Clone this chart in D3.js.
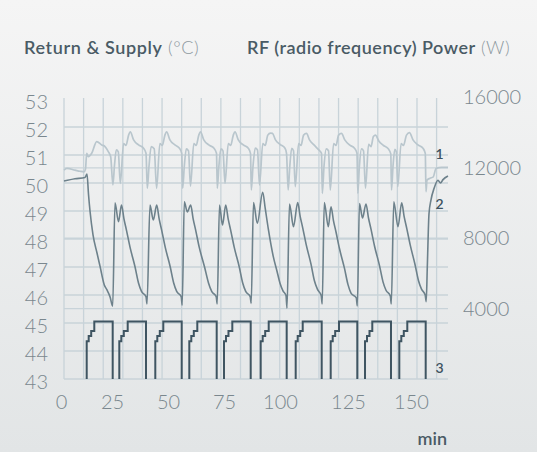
<!DOCTYPE html>
<html><head><meta charset="utf-8">
<script src="https://cdn.jsdelivr.net/npm/d3@7"></script>
<style>
html,body{margin:0;padding:0;background:#eceeee;}
svg{display:block;font-family:Lato,"Noto Sans",sans-serif;}
</style>
</head><body>
<svg id="chart" width="537" height="452"></svg>
<script>
// ---------------- DATA ----------------
const xTicks = [0, 25, 50, 75, 100, 125, 150];
const leftTicks = [43, 44, 45, 46, 47, 48, 49, 50, 51, 52, 53];
const rightTicks = [4000, 8000, 12000, 16000];
const seriesLabels = ["1", "2", "3"];

// series 1: supply temperature (°C), [minute, value]
const supply = [
[1.47,50.46],[2.94,50.52],[6.86,50.46],[9.31,50.42],[11.27,50.4],[12.01,50.5],[12.6,51.06],[13.38,50.94],[15.05,51.06],[17.5,51.48],[19.95,51.36],[21.57,51.3],[23.19,51.12],[24.36,50.94],
[25.4,49.93],[26.12,50.64],[26.92,51.18],[27.81,51.11],[28.71,49.99],
[30.18,51.41],[31.25,51.34],[32.41,51.71],[33.17,51.83],[34.64,51.54],[36.87,51.36],[39.11,51.24],[40.18,51.06],
[40.76,49.81],[41.52,50.6],[42.5,51.3],[43.84,51.22],[44.91,49.81],
[46.38,51.41],[47.46,51.34],[48.62,51.71],[49.38,51.83],[50.85,51.54],[53.08,51.36],[55.13,51.24],[56.12,51.06],
[56.56,49.81],[57.28,50.6],[58.17,51.22],[59.15,51.15],[60.04,49.89],
[61.52,51.41],[62.59,51.34],[63.75,51.71],[64.51,51.83],[65.98,51.54],[68.21,51.36],[70.54,51.24],[71.65,51.06],
[72.01,49.81],[72.72,50.6],[73.62,51.22],[74.55,51.15],[75.45,49.99],
[76.92,51.41],[77.99,51.34],[79.15,51.71],[79.91,51.83],[81.38,51.54],[83.62,51.36],[85.85,51.24],[86.83,51.06],
[87.19,49.75],[87.95,50.6],[88.97,51.25],[89.95,51.18],[90.85,49.93],
[92.32,51.41],[93.39,51.34],[94.55,51.71],[95.76,51.78],[96.65,51.77],[97.99,51.54],[100,51.38],[101.84,51.24],[102.39,51.06],
[103.01,49.75],[103.6,50.6],[104.3,51.24],[104.96,51.15],[105.63,49.87],
[106.84,51.41],[107.72,51.34],[108.68,51.71],[109.74,51.77],[110.85,51.54],[112.5,51.36],[114.08,51.2],[115.26,51.06],
[115.55,49.63],[116.18,50.6],[116.99,51.22],[117.83,51.15],[118.49,49.75],
[119.71,51.41],[120.59,51.34],[121.54,51.71],[122.61,51.77],[123.82,51.54],[125.6,51.36],[127.58,51.24],[128.57,51.06],
[128.89,49.63],[129.52,50.6],[130.36,51.22],[131.15,51.15],[131.94,49.82],
[133.17,51.38],[134.13,51.3],[135.08,51.66],[135.91,51.71],[137.22,51.5],[139.09,51.34],[140.99,51.22],[141.98,51.04],
[142.26,49.75],[142.86,50.6],[143.57,51.2],[144.17,51.12],[144.76,49.87],
[146.07,51.41],[147.02,51.34],[148.21,51.71],[149.4,51.8],[150.79,51.54],[152.78,51.36],[154.76,51.24],[155.67,51.06],
[155.95,49.69],[156.35,50.1],[157.54,50.17],[158.85,50.22],[159.92,50.52],[162.18,50.56],[164.68,50.56]
];

// series 2: return temperature (°C), [minute, value]
const returnTemp = [
[1.47,50.07],[6.86,50.15],[11.76,50.2],[12.75,50.32],[13.48,49.6],[14.22,49.0],[15.69,48.15],[17.65,47.5],[19.12,47.03],[21.23,46.36],[22.4,46.2],[24.02,45.94],[25.31,45.6],
[26.34,49.29],[27.9,48.62],[29.24,49.21],[30.36,48.71],[31.47,48.31],[33.04,47.71],[35.27,47.01],[36.83,46.43],[38.17,46.13],[40.18,45.94],[40.63,45.68],
[41.96,49.21],[43.44,48.68],[44.96,49.21],[46.07,48.71],[47.19,48.31],[48.75,47.71],[50.98,47.01],[52.54,46.43],[53.88,46.13],[55.89,45.94],[56.34,45.64],
[57.28,49.33],[58.62,48.97],[60.13,49.21],[61.25,48.71],[62.37,48.31],[63.93,47.71],[66.29,47.01],[68.08,46.43],[69.51,46.13],[71.52,45.94],[71.96,45.68],
[72.99,49.21],[74.33,48.5],[75.76,49.21],[76.88,48.71],[77.99,48.31],[79.55,47.71],[81.79,47.01],[83.35,46.43],[84.69,46.13],[86.7,45.94],[87.14,45.7],
[88.17,49.3],[89.87,48.56],[92.28,49.67],[93.39,49.1],[94.78,48.36],[97.01,47.37],[98.66,46.85],[100,46.42],[101.1,46.15],[102.21,45.98],[102.57,45.53],
[103.49,49.25],[104.96,48.44],[106.51,49.3],[107.43,48.8],[108.35,48.4],[109.63,47.8],[111.4,47.1],[112.68,46.5],[113.79,46.2],[115.15,45.98],[115.51,45.68],
[116.29,49.3],[117.76,48.44],[118.75,49.15],[119.67,48.65],[120.59,48.25],[121.88,47.65],[123.71,46.95],[125,46.37],[126.19,46.07],[128.29,45.9],[128.69,45.61],
[129.56,49.27],[130.75,48.75],[132.14,49.25],[133.13,48.75],[134.13,48.35],[135.52,47.75],[137.5,47.05],[138.89,46.47],[140.08,46.17],[141.79,45.97],[142.18,45.68],
[143.17,49.33],[144.84,48.44],[146.31,49.29],[147.3,48.79],[148.29,48.39],[149.68,47.79],[151.59,47.09],[152.98,46.51],[154.17,46.21],[155.63,46.0],[156.03,45.76],
[156.47,47.0],[157.14,48.9],[157.94,49.4],[159.13,49.8],[160.71,50.1],[161.71,50.0],[162.7,50.12],[164.68,50.25]
];

// series 3: RF power (W) – one pulse per cycle (minutes)
const powerRise  = [12.6, 28.26, 44.33, 59.51, 75.0, 91.38, 105.77, 118.64, 131.75, 145.36];
const powerStep2 = [13.58, 29.15, 45.22, 60.4, 75.89, 92.27, 106.51, 119.38, 132.54, 146.15];
const powerStep3 = [14.8, 30.27, 46.34, 61.52, 77.0, 93.39, 107.43, 120.29, 133.53, 147.14];
const powerTop   = [16.32, 32.01, 47.9, 63.08, 78.71, 94.96, 108.35, 121.69, 134.64, 148.53];
const powerFall  = [25.31, 40.18, 56.12, 71.74, 86.92, 102.46, 115.33, 128.69, 142.06, 155.83];
const powerLevels = [2150, 2450, 2730, 3270];

// ---------------- LAYOUT ----------------
const W = 537, H = 452;
const plotL = 64, plotR = 448, plotTop = 99, plotBottom = 379;
const xTickPx = [61, 112, 168, 224, 280, 348, 411];
const C = {
  grid: "#c8d3d9", s1: "#b9c6cd", s2: "#6d818b", s3: "#3f5562",
  title: "#4a5b65", unit: "#8e999f", tick: "#7a878e", ann: "#3e5260"
};

const svg = d3.select("#chart");
const defs = svg.append("defs");
const bg = defs.append("linearGradient").attr("id","bg").attr("x1",0).attr("y1",0).attr("x2",0).attr("y2",1);
bg.append("stop").attr("offset","0%").attr("stop-color","#f5f5f5");
bg.append("stop").attr("offset","100%").attr("stop-color","#e2e5e6");
svg.append("rect").attr("width",W).attr("height",H).attr("fill","url(#bg)");

const x = d3.scaleLinear().domain(xTicks).range(xTickPx);
const y = d3.scaleLinear().domain([43, 53]).range([plotBottom, plotTop]);
const yR = d3.scaleLinear().domain([0, 16000]).range([plotBottom, 97.5]);
const gridX = d3.scaleLinear().domain([0, 19]).range([plotL, 436.6]);

// grid
const g = svg.append("g").attr("stroke", C.grid).attr("stroke-width", 1.3).attr("fill","none");
g.selectAll("line.v").data(d3.range(20)).join("line")
  .attr("x1", d => gridX(d)).attr("x2", d => gridX(d))
  .attr("y1", plotTop - 1).attr("y2", plotBottom);
g.selectAll("line.h").data(leftTicks.filter(v => v < 53)).join("line")
  .attr("x1", plotL).attr("x2", plotR).attr("y1", d => y(d)).attr("y2", d => y(d));
g.selectAll("line.hr").data(rightTicks.filter(v => v < 16000)).join("line")
  .attr("x1", plotL).attr("x2", plotR).attr("y1", d => yR(d)).attr("y2", d => yR(d));

// series
const line1 = d3.line().x(d => x(d[0])).y(d => y(d[1])).curve(d3.curveMonotoneX);
svg.append("path").datum(supply).attr("d", line1)
  .attr("fill","none").attr("stroke", C.s1).attr("stroke-width", 1.7).attr("stroke-linejoin","round");
svg.append("path").datum(returnTemp).attr("d", line1)
  .attr("fill","none").attr("stroke", C.s2).attr("stroke-width", 1.6).attr("stroke-linejoin","round");

const pulses = powerRise.map((r, i) => [
  [r, 0], [r, powerLevels[0]], [powerStep2[i], powerLevels[1]], [powerStep3[i], powerLevels[2]],
  [powerTop[i], powerLevels[3]], [powerFall[i], 0]
]);
const line3 = d3.line().x(d => x(d[0])).y(d => yR(d[1])).curve(d3.curveStepAfter);
svg.append("g").selectAll("path").data(pulses).join("path").attr("d", line3)
  .attr("fill","none").attr("stroke", C.s3).attr("stroke-width", 2);

// axes
const fs = 20;
const axL = svg.append("g").attr("transform", `translate(48,3.4)`)
  .call(d3.axisLeft(y).tickValues(leftTicks).tickSize(0).tickPadding(0));
const axR = svg.append("g").attr("transform", `translate(463,0)`)
  .call(d3.axisRight(yR).tickValues(rightTicks).tickFormat(d3.format("d")).tickSize(0).tickPadding(0));
const axB = svg.append("g").attr("transform", `translate(0,394.8)`)
  .call(d3.axisBottom(x).tickValues(xTicks).tickSize(0).tickPadding(0));
[axL, axR, axB].forEach(a => {
  a.select(".domain").remove();
  a.selectAll("text").attr("fill", C.tick).style("font-size", fs + "px")
    .style("font-weight", 300).style("font-family", "Lato, 'Noto Sans', sans-serif");
});

// titles
const t1 = svg.append("text").attr("x", 24).attr("y", 54).style("font-size","18px").style("letter-spacing","0.6px");
t1.append("tspan").text("Return & Supply").attr("fill", C.title).style("font-weight", 600);
t1.append("tspan").text(" (°C)").attr("fill", C.unit).style("font-weight", 300);
const t2 = svg.append("text").attr("x", 247).attr("y", 54).style("font-size","18px").style("letter-spacing","0.5px");
t2.append("tspan").text("RF (radio frequency) Power").attr("fill", C.title).style("font-weight", 600);
t2.append("tspan").text(" (W)").attr("fill", C.unit).style("font-weight", 300);

svg.append("text").attr("x", 447).attr("y", 445).attr("text-anchor","end")
  .attr("fill", C.title).style("font-size","18px").style("font-weight", 600).text("min");

// series labels
const annT = [161.3, 161.3, 161.3];
const annV = [50.86, 49.07, 43.21];
svg.append("g").selectAll("text").data(seriesLabels).join("text")
  .attr("x", (d, i) => x(annT[i])).attr("y", (d, i) => y(annV[i]))
  .attr("text-anchor","middle").attr("fill", C.ann)
  .style("font-size","14px").style("font-weight", 600).text(d => d);
</script>
</body></html>
